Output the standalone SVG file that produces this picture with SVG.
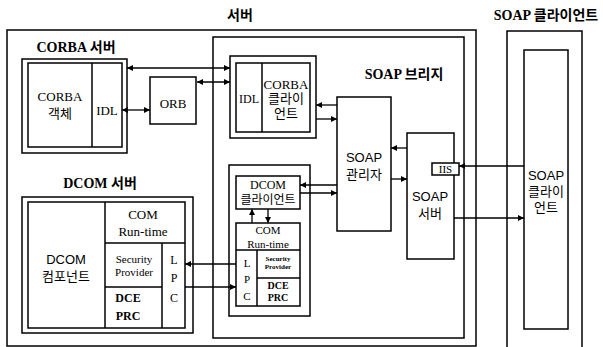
<svg xmlns="http://www.w3.org/2000/svg" width="603" height="347" viewBox="0 0 603 347">
<defs>
<style>
rect{fill:none;stroke:#000;stroke-width:1.5}
.c line{stroke:#000;stroke-width:1.3}
text{font-family:"Liberation Serif","Noto Sans CJK KR",serif;font-size:13px;fill:#000;text-anchor:middle}
.k{font-family:"Liberation Sans","Noto Sans CJK KR",sans-serif}
.t{font-weight:bold;font-size:14px}
.s{font-size:9px}
.xs{font-size:7px;font-weight:bold}
</style>
<marker id="ah" viewBox="0 0 10 10" refX="10" refY="5" markerWidth="6" markerHeight="6" markerUnits="userSpaceOnUse" orient="auto-start-reverse">
<path d="M0,0 L10,5 L0,10 z" fill="#000"/>
</marker>
</defs>
<rect width="603" height="347" style="fill:#fff;stroke:none"/>

<g id="titles">
<text class="t" x="240" y="20">서버</text>
<text class="t" x="546" y="20">SOAP 클라이언트</text>
</g>

<g id="server-outer"><rect x="7" y="30" width="469" height="316"/></g>

<g id="soap-bridge">
<rect x="213" y="37" width="251" height="301"/>
<text class="t" x="404" y="79">SOAP 브리지</text>
</g>

<g id="corba-server">
<text class="t" x="76" y="52">CORBA 서버</text>
<rect x="22" y="59" width="105" height="94"/>
<rect x="28" y="63" width="94" height="84"/>
<line x1="92" y1="63" x2="92" y2="147" stroke="#000" stroke-width="1.5"/>
<text x="60" y="101">CORBA</text>
<text class="k" x="60" y="118">객체</text>
<text x="107" y="115">IDL</text>
</g>

<g id="orb">
<rect x="150" y="77" width="46" height="47"/>
<text x="173" y="108">ORB</text>
</g>

<g id="corba-client">
<rect x="230" y="56" width="86" height="82"/>
<rect x="236" y="63" width="74" height="69"/>
<line x1="262" y1="63" x2="262" y2="132" stroke="#000" stroke-width="1.5"/>
<text x="249" y="103" style="font-size:12px">IDL</text>
<text x="286" y="89">CORBA</text>
<text class="k" x="286" y="103">클라이</text>
<text class="k" x="286" y="118">언트</text>
</g>

<g id="soap-manager">
<rect x="337" y="97" width="54" height="134"/>
<text class="k" x="364" y="162">SOAP</text>
<text class="k" x="364" y="179">관리자</text>
</g>

<g id="soap-server">
<rect x="407" y="133" width="47" height="126"/>
<text class="k" x="430" y="201">SOAP</text>
<text class="k" x="430" y="218">서버</text>
</g>

<g id="iis">
<rect x="432" y="163" width="27" height="12" style="fill:#fff"/>
<text x="445.5" y="173" style="font-size:11px">IIS</text>
</g>

<g id="soap-client">
<rect x="507" y="31" width="75" height="330"/>
<rect x="524" y="50" width="44" height="279"/>
<text class="k" x="546" y="180">SOAP</text>
<text class="k" x="546" y="196">클라이</text>
<text class="k" x="546" y="212">언트</text>
</g>

<g id="dcom-server">
<text class="t" x="100" y="188">DCOM 서버</text>
<rect x="22" y="197" width="171" height="136"/>
<rect x="28" y="202" width="157" height="126"/>
<line x1="105" y1="202" x2="105" y2="328" stroke="#000" stroke-width="1.5"/>
<line x1="105" y1="243" x2="185" y2="243" stroke="#000" stroke-width="1.5"/>
<line x1="162" y1="243" x2="162" y2="328" stroke="#000" stroke-width="1.5"/>
<line x1="105" y1="287" x2="162" y2="287" stroke="#000" stroke-width="1.5"/>
<text class="k" x="66" y="264">DCOM</text>
<text class="k" x="66" y="281">컴포넌트</text>
<text x="143" y="219">COM</text>
<text x="143" y="236">Run-time</text>
<text x="134" y="263" style="font-size:11px">Security</text>
<text x="134" y="276" style="font-size:11px">Provider</text>
<text x="128" y="302" style="font-weight:bold;font-size:12px">DCE</text>
<text x="128" y="320" style="font-weight:bold;font-size:12px">PRC</text>
<text x="174" y="264" style="font-size:12px">L</text>
<text x="174" y="282" style="font-size:12px">P</text>
<text x="174" y="302" style="font-size:12px">C</text>
</g>

<g id="dcom-client-side">
<rect x="229" y="165" width="81" height="151"/>
<rect x="236" y="176" width="64" height="33"/>
<text x="268" y="189" style="font-size:12px">DCOM</text>
<text class="k" x="268" y="204" style="font-size:12px">클라이언트</text>
<rect x="236" y="223" width="64" height="83"/>
<line x1="236" y1="250" x2="300" y2="250" stroke="#000" stroke-width="1.5"/>
<line x1="257" y1="250" x2="257" y2="306" stroke="#000" stroke-width="1.5"/>
<line x1="257" y1="278" x2="300" y2="278" stroke="#000" stroke-width="1.5"/>
<text x="268" y="234" style="font-size:11px">COM</text>
<text x="268" y="248" style="font-size:11px">Run-time</text>
<text class="xs" x="278" y="261">Security</text>
<text class="xs" x="278" y="269">Provider</text>
<text x="278" y="289" style="font-size:10px;font-weight:bold">DCE</text>
<text x="278" y="301" style="font-size:10px;font-weight:bold">PRC</text>
<text x="247" y="267" style="font-size:11px">L</text>
<text x="247" y="283" style="font-size:11px">P</text>
<text x="247" y="300" style="font-size:11px">C</text>
</g>

<g class="c" id="connectors">
<line x1="127" y1="68" x2="230" y2="68" marker-start="url(#ah)" marker-end="url(#ah)"/>
<line x1="197" y1="82" x2="230" y2="82" marker-start="url(#ah)" marker-end="url(#ah)"/>
<line x1="122" y1="110" x2="150" y2="110" marker-start="url(#ah)" marker-end="url(#ah)"/>
<line x1="337" y1="105" x2="316" y2="105" marker-end="url(#ah)"/>
<line x1="316" y1="119" x2="337" y2="119" marker-end="url(#ah)"/>
<line x1="407" y1="148" x2="391" y2="148" marker-end="url(#ah)"/>
<line x1="391" y1="179" x2="407" y2="179" marker-end="url(#ah)"/>
<line x1="524" y1="166" x2="459" y2="166" marker-end="url(#ah)"/>
<line x1="454" y1="218" x2="524" y2="218" marker-end="url(#ah)"/>
<line x1="337" y1="185" x2="300" y2="185" marker-end="url(#ah)"/>
<line x1="300" y1="193" x2="337" y2="193" marker-end="url(#ah)"/>
<line x1="252" y1="223" x2="252" y2="209" marker-end="url(#ah)"/>
<line x1="268" y1="209" x2="268" y2="223" marker-end="url(#ah)"/>
<line x1="236" y1="264" x2="185" y2="264" marker-end="url(#ah)"/>
<line x1="185" y1="287" x2="236" y2="287" marker-end="url(#ah)"/>
</g>
</svg>
